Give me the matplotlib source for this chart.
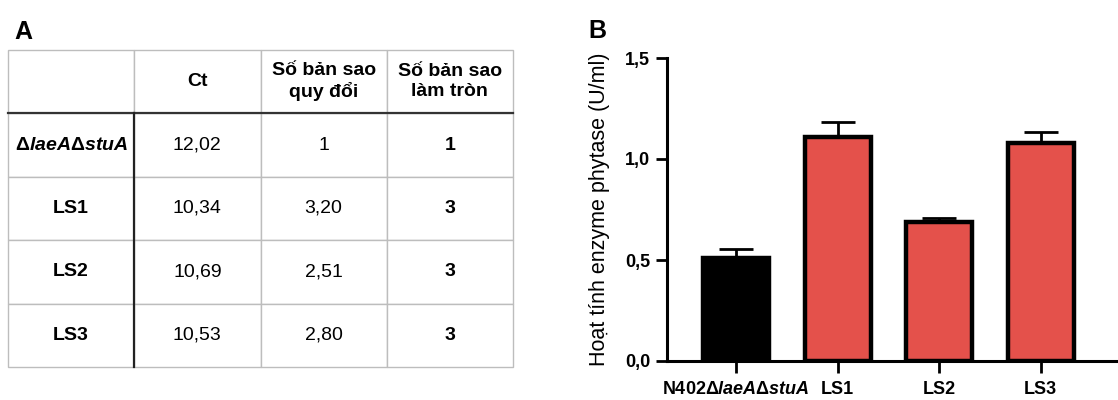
import numpy as np
import matplotlib.pyplot as plt

plt.rcParams['font.family'] = ['Liberation Sans', 'DejaVu Sans']
plt.rcParams['mathtext.fontset'] = 'custom'
plt.rcParams['mathtext.it'] = 'Liberation Sans:italic:bold'
plt.rcParams['mathtext.rm'] = 'Liberation Sans:bold'
plt.rcParams['mathtext.bf'] = 'Liberation Sans:bold'

# table data (panel A)
col_labels = ["", "Ct", "Số bản sao\nquy đổi", "Số bản sao\nlàm tròn"]
row_labels = [r"$\mathit{ΔlaeAΔstuA}$", "LS1", "LS2", "LS3"]
ct_values = ["12,02", "10,34", "10,69", "10,53"]
copy_converted = ["1", "3,20", "2,51", "2,80"]
copy_rounded = ["1", "3", "3", "3"]

# bar data (panel B)
strains = [r"N402$\mathit{ΔlaeAΔstuA}$", "LS1", "LS2", "LS3"]
activity = [0.51, 1.11, 0.69, 1.08]
activity_err = [0.045, 0.072, 0.02, 0.055]
bar_colors = ["black", "#E4514B", "#E4514B", "#E4514B"]

W, H = 1118, 400
fig = plt.figure(figsize=(W / 100, H / 100), dpi=100)

# ---- panel A: table
axA = fig.add_axes([8 / W, 1 - 367 / H, 505 / W, 317 / H])
axA.axis('off')
cells = [[row_labels[i], ct_values[i], copy_converted[i], copy_rounded[i]] for i in range(4)]
tab = axA.table(cellText=[col_labels] + cells, bbox=[0, 0, 1, 1], cellLoc='center')
tab.auto_set_font_size(False)
for (r, c), cell in tab.get_celld().items():
    cell.set_edgecolor('#BDBDBD')
    cell.set_linewidth(1.0)
    txt = cell.get_text()
    txt.set_fontsize(14)
    if r == 0 or c == 0 or c == 3:
        txt.set_fontweight('bold')
# darker separators
axA.plot([0, 1], [0.8, 0.8], color='#333333', lw=1.6, transform=axA.transAxes, clip_on=False)
axA.plot([0.25, 0.25], [0, 0.8], color='#222222', lw=1.6, transform=axA.transAxes, clip_on=False)
fig.text(14 / W, 1 - 39 / H, "A", fontsize=18, fontweight='bold')

# ---- panel B: bar chart
axB = fig.add_axes([667 / W, 1 - 361 / H, (W - 667) / W, 303 / H])
x = np.arange(len(strains))
axB.bar(x, activity, width=0.65, color=bar_colors, edgecolor='black', linewidth=3.2, zorder=2)
axB.errorbar(x, activity, yerr=[np.zeros(len(activity)), activity_err], fmt='none',
             ecolor='black', elinewidth=2, capsize=12, capthick=2, zorder=1)
axB.set_xlim(-0.68, 3.76)
axB.set_ylim(0, 1.5)
axB.set_yticks([0, 0.5, 1.0, 1.5])
axB.set_yticklabels(["0,0", "0,5", "1,0", "1,5"], fontsize=13, fontweight='bold')
axB.set_xticks(x)
axB.set_xticklabels(strains, fontsize=13, fontweight='bold')
axB.tick_params(axis='y', length=8, width=2, pad=4)
axB.tick_params(axis='x', length=8.5, width=2, pad=6)
for s in ['top', 'right']:
    axB.spines[s].set_visible(False)
for s in ['left', 'bottom']:
    axB.spines[s].set_linewidth(2.2)
axB.set_ylabel("Hoạt tính enzyme phytase (U/ml)", fontsize=15.5, labelpad=11)
fig.text(588 / W, 1 - 38 / H, "B", fontsize=18, fontweight='bold')

fig.savefig("out.png", dpi=100)
